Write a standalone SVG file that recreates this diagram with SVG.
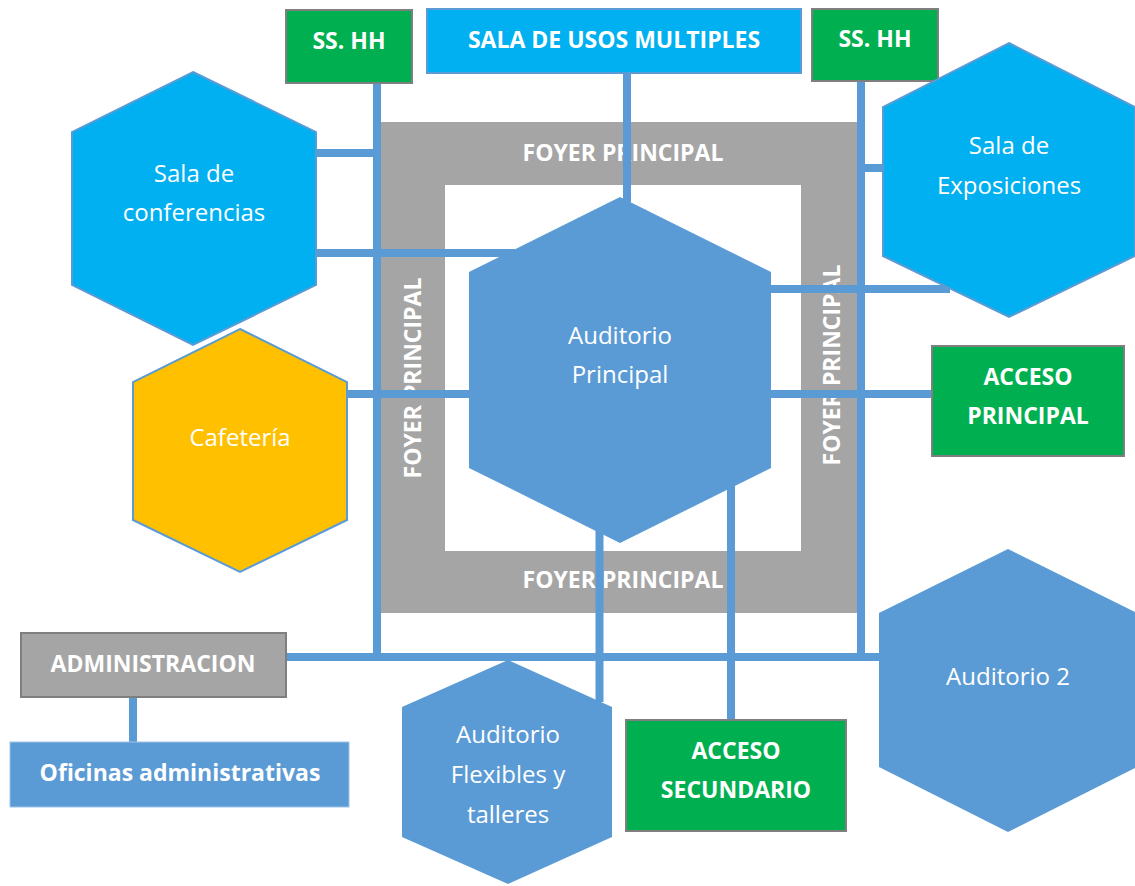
<svg xmlns="http://www.w3.org/2000/svg" width="1135" height="886" viewBox="0 0 1135 886">
<style>
.lbl{font-family:"Open Sans","Noto Sans","Liberation Sans",sans-serif;font-size:24px;fill:#fff;text-anchor:middle}
.b{font-weight:bold;font-size:23px}
.con{stroke:#5B9BD5;stroke-width:8;fill:none}
.green{fill:#00B050;stroke:#7F7F7F;stroke-width:2}
.gray{fill:#A5A5A5;stroke:#7F7F7F;stroke-width:2}
.cyan{fill:#00B0F0;stroke:#5B9BD5;stroke-width:2}
.blue{fill:#5B9BD5}
</style>
<rect width="1135" height="886" fill="#fff"/>
<g id="foyer">
<path d="M381 122H857V613H381Z M445 185V551H801V185Z" fill="#A5A5A5" fill-rule="evenodd"/>
<text class="lbl b" x="623" y="161">FOYER PRINCIPAL</text>
<text class="lbl b" x="623" y="588">FOYER PRINCIPAL</text>
<text class="lbl b" x="421" y="378" transform="rotate(-90 421 378)">FOYER PRINCIPAL</text>
<text class="lbl b" x="840" y="365" transform="rotate(-90 840 365)">FOYER PRINCIPAL</text>
</g>
<g id="connectors" class="con">
<line x1="377" y1="82" x2="377" y2="661"/>
<line x1="861" y1="80" x2="861" y2="661"/>
<line x1="285" y1="657" x2="880" y2="657"/>
<line x1="627" y1="73" x2="627" y2="202"/>
<line x1="316" y1="153" x2="381" y2="153"/>
<line x1="316" y1="253" x2="515" y2="253"/>
<line x1="861" y1="168" x2="890" y2="168"/>
<line x1="771" y1="289" x2="950" y2="289"/>
<line x1="346" y1="394" x2="470" y2="394"/>
<line x1="770" y1="394" x2="932" y2="394"/>
<line x1="599.5" y1="530" x2="599.5" y2="702"/>
<line x1="731" y1="480" x2="731" y2="720"/>
<line x1="133" y1="697" x2="133" y2="742"/>
</g>
<g id="ss-hh-1">
<rect class="green" x="286" y="10" width="126" height="73"/>
<text class="lbl b" x="349" y="49">SS. HH</text>
</g>
<g id="sala-usos-multiples">
<rect class="cyan" x="427" y="9" width="374" height="64"/>
<text class="lbl b" x="614" y="48">SALA DE USOS MULTIPLES</text>
</g>
<g id="ss-hh-2">
<rect class="green" x="812" y="9" width="126" height="72"/>
<text class="lbl b" x="875" y="47">SS. HH</text>
</g>
<g id="sala-conferencias">
<polygon class="cyan" points="193,72 316,132 316,285 193,345 72,285 72,132"/>
<text class="lbl" x="194" y="182">Sala de</text>
<text class="lbl" x="194" y="221">conferencias</text>
</g>
<g id="sala-exposiciones">
<polygon class="cyan" points="1009,43 1135,107 1135,256 1009,317 883,256 883,107"/>
<text class="lbl" x="1009" y="154">Sala de</text>
<text class="lbl" x="1009" y="194">Exposiciones</text>
</g>
<g id="auditorio-principal">
<polygon class="blue" points="620,197 771,272 771,468 620,543 469,468 469,272"/>
<text class="lbl" x="620" y="344">Auditorio</text>
<text class="lbl" x="620" y="383">Principal</text>
</g>
<g id="cafeteria">
<polygon fill="#FFC000" stroke="#5B9BD5" stroke-width="2" points="240,329 347,382 347,520 240,572 133,520 133,382"/>
<text class="lbl" x="240" y="446">Cafetería</text>
</g>
<g id="acceso-principal">
<rect class="green" x="932" y="346" width="192" height="110"/>
<text class="lbl b" x="1028" y="385">ACCESO</text>
<text class="lbl b" x="1028" y="424">PRINCIPAL</text>
</g>
<g id="auditorio-2">
<polygon class="blue" points="1008,549 1137,613 1137,767 1008,832 879,767 879,613"/>
<text class="lbl" x="1008" y="685">Auditorio 2</text>
</g>
<g id="auditorio-flexibles">
<polygon class="blue" points="508,660 612,707 612,837 508,884 402,837 402,707"/>
<text class="lbl" x="508" y="743">Auditorio</text>
<text class="lbl" x="508" y="783">Flexibles y</text>
<text class="lbl" x="508" y="823">talleres</text>
</g>
<g id="acceso-secundario">
<rect class="green" x="626" y="720" width="220" height="111"/>
<text class="lbl b" x="736" y="759">ACCESO</text>
<text class="lbl b" x="736" y="798">SECUNDARIO</text>
</g>
<g id="administracion">
<rect class="gray" x="21" y="633" width="265" height="64"/>
<text class="lbl b" x="153" y="672">ADMINISTRACION</text>
</g>
<g id="oficinas-administrativas">
<rect class="blue" x="10" y="742" width="339" height="65" stroke="#9DC3E6" stroke-width="1"/>
<text class="lbl b" x="180" y="781">Oficinas administrativas</text>
</g>
</svg>
